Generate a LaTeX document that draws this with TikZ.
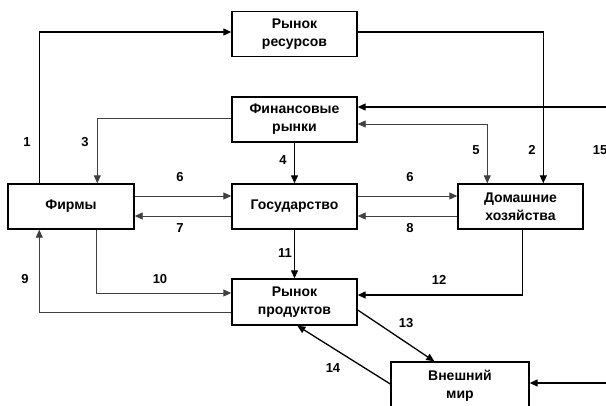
\documentclass[tikz,border=0pt]{standalone}
\usepackage{fontspec}
\setmainfont{Liberation Sans}
\usetikzlibrary{arrows.meta}

\begin{document}
\begin{tikzpicture}[x=1pt,y=-1pt,>={Triangle[length=8pt,width=7pt]},
  box/.style={draw,line width=1.4pt,minimum width=125pt,minimum height=45pt,inner sep=0pt,
    align=center,font=\bfseries\fontsize{14}{18}\selectfont},
  thk/.style={line width=1.3pt},
  thn/.style={line width=0.9pt,black!75},
  num/.style={font=\bfseries\fontsize{13}{15}\selectfont}]
  \useasboundingbox (0,0) rectangle (606,405);

  % boxes
  \node[box] (rr) at (294.5,34) {Рынок\\ресурсов};
  \node[box] (fin) at (294.5,119.5) {Финансовые\\рынки};
  \node[box,minimum width=126pt] (firms) at (71,206.5) {Фирмы};
  \node[box] (gov) at (294.5,206.5) {Государство};
  \node[box] (hh) at (520.5,206.5) {Домашние\\хозяйства};
  \node[box,minimum height=46pt] (prod) at (294.5,302) {Рынок\\продуктов};
  \node[box,minimum width=138pt,minimum height=48pt] (world) at (460,386) {Внешний\\мир};

  \coordinate (e15) at (606,107);
  \coordinate (ew) at (606,383);

  % flows
  \draw[thk,->] ([xshift=32pt]firms.north west) |- ([yshift=2pt]rr.west);
  \draw[thk,->] ([yshift=2pt]rr.east) -| ([xshift=86pt]hh.north west);
  \draw[thn,->] ([yshift=1.5pt]fin.west) -| ([xshift=90pt]firms.north west);
  \draw[thk,->] (fin.south) -- (gov.north);
  \draw[thn,<->] ([yshift=-4.5pt]fin.east) -| ([xshift=30pt]hh.north west);
  \draw[thk,->] (e15) -- (e15 -| fin.east);
  \draw[thn,->] ([yshift=10.5pt]firms.east) -- ([yshift=10.5pt]gov.west);
  \draw[thn,->] ([yshift=-9.5pt]gov.west) -- ([yshift=-9.5pt]firms.east);
  \draw[thn,->] ([yshift=10.5pt]gov.east) -- ([yshift=10.5pt]hh.west);
  \draw[thn,->] ([yshift=-9.5pt]hh.west) -- ([yshift=-9.5pt]gov.east);
  \draw[thk,->] (gov.south) -- (prod.north);
  \draw[thn,->] ([xshift=89pt]firms.south west) |- ([yshift=9pt]prod.west);
  \draw[thn,->] ([yshift=-10pt]prod.west) -| ([xshift=32pt]firms.south west);
  \draw[thk,->] ([xshift=65pt]hh.south west) |- ([yshift=7pt]prod.east);
  \draw[thk,->] ([yshift=-8pt]prod.east) -- ([xshift=44pt]world.north west);
  \draw[thk,->] ([yshift=2pt]world.west) -- ([xshift=66pt]prod.south west);
  \draw[thk,->] (ew) -- (ew -| world.east);

  % numbers
  \node[num] (n1) at (27,142) {1};
  \node[num] (n2) at (532,150) {2};
  \node[num] (n3) at (85,142) {3};
  \node[num] (n4) at (283,160) {4};
  \node[num] (n5) at (476,150) {5};
  \node[num] (n6a) at (180,177) {6};
  \node[num] (n6b) at (410,177) {6};
  \node[num] (n7) at (180,228) {7};
  \node[num] (n8) at (410,228) {8};
  \node[num] (n9) at (25,279) {9};
  \node[num] (n10) at (160,279) {10};
  \node[num] (n11) at (285,253) {11};
  \node[num] (n12) at (439,280) {12};
  \node[num] (n13) at (406,323) {13};
  \node[num] (n14) at (333,368) {14};
  \node[num] (n15) at (600,150) {15};
\end{tikzpicture}
\end{document}
